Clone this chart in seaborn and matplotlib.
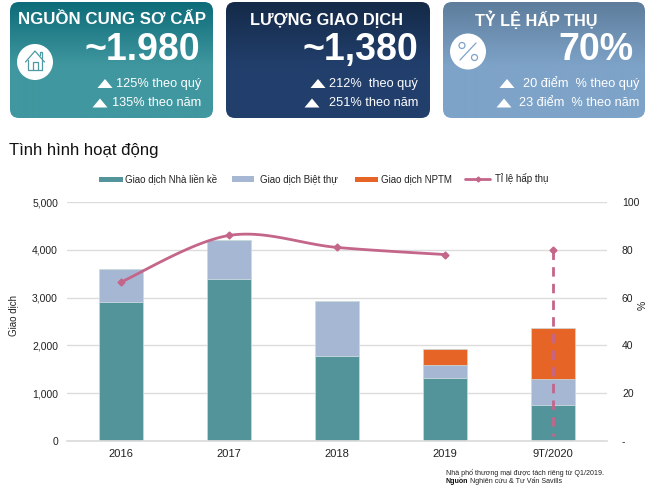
import numpy as np
import pandas as pd
import matplotlib
matplotlib.use("Agg")
import matplotlib.pyplot as plt
import seaborn as sns
from matplotlib.patches import FancyBboxPatch, Circle, Polygon
from matplotlib.lines import Line2D
from matplotlib.ticker import FuncFormatter

categories = ["2016", "2017", "2018", "2019", "9T/2020"]
townhouse = [2900, 3390, 1770, 1310, 750]
villa = [700, 820, 1150, 270, 550]
commercial = [0, 0, 0, 340, 1070]
absorption = [66.5, 86, 81, 78]
absorption_last = 80

card_titles = ["NGUỒN CUNG SƠ CẤP", "LƯỢNG GIAO DỊCH", "TỶ LỆ HẤP THỤ"]
card_values = ["~1.980", "~1,380", "70%"]
card_line1 = ["125% theo quý", "212%  theo quý", "20 điểm  % theo quý"]
card_line2 = ["135% theo năm", "251% theo năm", "23 điểm  % theo năm"]

sns.set_theme(style="white")
plt.rcParams["font.family"] = ["Liberation Sans", "DejaVu Sans"]

TEAL, VILLA, ORANGE, PINK = "#53949b", "#a6b7d4", "#e66426", "#c4658a"
W, H = 650, 488
fig = plt.figure(figsize=(W / 100, H / 100), dpi=100)

# chart axes
ax = fig.add_axes([67 / W, 1 - 441 / H, 540 / W, 239 / H])
df = pd.DataFrame({"cat": categories, "t": townhouse, "v": villa, "c": commercial})
bw = 0.4
common = dict(data=df, x="cat", ax=ax, width=bw, saturation=1, edgecolor="#c9dadd", linewidth=0.5)
sns.barplot(y="t", color=TEAL, **common)
sns.barplot(y="v", bottom=df["t"], color=VILLA, **common)
sns.barplot(y="c", bottom=df["t"] + df["v"], color=ORANGE, **common)
ax.set_xlim(-0.5, 4.5)
ax.set_ylim(0, 5000)
ax.set_yticks(range(0, 5001, 1000))
ax.yaxis.set_major_formatter(FuncFormatter(lambda v, _: f"{int(v):,}"))
ax.set_xlabel("")
ax.set_ylabel("")
ax.grid(axis="y", color="#dcdcdc", lw=1)
ax.set_axisbelow(True)
ax.tick_params(axis="y", length=0, labelsize=7.5, colors="#222222", pad=6.5)
ax.tick_params(axis="x", length=0, labelsize=8, colors="#222222", pad=6)
for s in ax.spines.values():
    s.set_visible(False)
ax.spines["bottom"].set_visible(True)
ax.spines["bottom"].set_color("#dcdcdc")

# secondary axis
ax2 = ax.twinx()
ax2.set_ylim(0, 100)
ax2.set_yticks(range(0, 101, 20))
ax2.set_yticklabels(["-", "20", "40", "60", "80", "100"])
ax2.tick_params(axis="y", length=0, labelsize=7.5, colors="#222222", pad=10.8)
ax2.set_ylabel("")
ax2.grid(False)
for s in ax2.spines.values():
    s.set_visible(False)

# smoothed curve through the yearly values (Catmull-Rom, as a spreadsheet smooth line)
xs = np.arange(len(absorption), dtype=float)
ys = np.array(absorption, dtype=float)
px = np.r_[xs[0], xs, xs[-1]]
py = np.r_[ys[0], ys, ys[-1]]
tt = np.linspace(0, 1, 30)
cx, cy = [], []
for i in range(1, len(px) - 2):
    for P, out in ((px, cx), (py, cy)):
        p0, p1, p2, p3 = P[i - 1:i + 3]
        out.extend(0.5 * (2 * p1 + (p2 - p0) * tt + (2 * p0 - 5 * p1 + 4 * p2 - p3) * tt**2
                          + (3 * p1 - p0 - 3 * p2 + p3) * tt**3))
sns.lineplot(x=cx, y=cy, ax=ax2, color=PINK, lw=2, legend=False, errorbar=None, sort=False)
ax2.plot(xs, ys, ls="none", marker="D", ms=3.5, color=PINK)
ax2.plot([4, 4], [absorption_last, 2], color=PINK, lw=2, ls=(0, (3.4, 2.6)))
ax2.plot([4], [absorption_last], ls="none", marker="D", ms=3.5, color=PINK)

# overlay in pixel coordinates
ov = fig.add_axes([0, 0, 1, 1], zorder=5)
ov.set_xlim(0, W)
ov.set_ylim(H, 0)
ov.axis("off")
ov.patch.set_alpha(0)


def hex2rgb(c):
    return np.array(matplotlib.colors.to_rgb(c))


cards = [
    (10, 213, "#0d6c79", "#40979f", "#449aa4"),
    (226, 430, "#142a48", "#223f6c", "#234170"),
    (443, 645, "#5e7d9c", "#7ea3c8", "#7fa4ca"),
]
TOP, BOT = 2, 118
for (x0, x1, c0, c1, c2), title, val, l1, l2, i in zip(
        cards, card_titles, card_values, card_line1, card_line2, range(3)):
    v = np.linspace(0, 1, 116)[:, None]
    grad = np.where(v < 0.55, v / 0.55, 1.0)
    rgb = np.empty((116, 1, 3))
    a, b = hex2rgb(c0), hex2rgb(c1)
    rgb[:, 0, :] = a * (1 - grad) + b * grad
    im = ov.imshow(rgb, extent=(x0, x1, BOT, TOP), aspect="auto", zorder=1, interpolation="bilinear")
    clip = FancyBboxPatch((x0 + 9, TOP + 9), x1 - x0 - 18, BOT - TOP - 18,
                          boxstyle="round,pad=9,rounding_size=9", transform=ov.transData,
                          fc="none", ec="none")
    ov.add_patch(clip)
    im.set_clip_path(clip)
    xc = {0: 111.5, 1: 326, 2: 536.5}[i]
    ov.text(xc, 20, title, ha="center", va="center", color="white",
            fontsize={0: 12.2, 1: 11.8, 2: 11.7}[i], fontweight="bold", zorder=3)
    xr = {0: 200, 1: 418, 2: 633}[i]
    ov.text(xr, 50.5, val, ha="right", va="center", color="white", fontsize=27,
            fontweight="bold", zorder=3)
    for yy, s, tri in ((83.5, l1, {0: 105, 1: 318, 2: 507}[i]),
                       (103, l2, {0: 100, 1: 312, 2: 504}[i])):
        xe = {0: 201, 1: 418, 2: 639}[i]
        ov.text(xe, yy, s, ha="right", va="center", color="white", fontsize=9.2, zorder=3)
        ov.add_patch(Polygon([(tri - 7.5, yy + 4.5), (tri + 7.5, yy + 4.5), (tri, yy - 4.5)],
                             closed=True, fc="white", ec="none", zorder=3))

# icon discs
ov.add_patch(Circle((35, 62), 18, fc="white", ec="none", zorder=3))
ov.add_patch(Circle((468, 51.5), 18, fc="white", ec="none", zorder=3))
ic = "#4f9aa3"
ov.plot([25.5, 35, 44.5], [62, 51, 62], color=ic, lw=0.9, zorder=4)
ov.plot([28, 28, 42, 42], [60, 70, 70, 60], color=ic, lw=0.9, zorder=4)
ov.plot([33, 33, 37.5, 37.5], [70, 62, 62, 70], color=ic, lw=0.9, zorder=4)
ov.plot([39.5, 39.5, 42, 42], [55, 52, 52, 58], color=ic, lw=0.9, zorder=4)
pc = "#7ea3c8"
ov.plot([460, 476], [60, 43], color=pc, lw=0.9, zorder=4)
ov.add_patch(Circle((462, 45.5), 3, fc="none", ec=pc, lw=0.9, zorder=4))
ov.add_patch(Circle((474.5, 57.5), 3, fc="none", ec=pc, lw=0.9, zorder=4))

# heading
ov.text(9, 151, "Tình hình hoạt động", ha="left", va="center", fontsize=12, color="#111111")

# axis titles
ov.text(13, 316, "Giao dịch", rotation=90, ha="center", va="center", fontsize=7, color="#222222")
ov.text(643, 305, "%", rotation=90, ha="center", va="center", fontsize=7.5, color="#222222")

# legend
ly = 179
ov.add_patch(plt.Rectangle((99, ly - 2.5), 24, 5, fc=TEAL, ec="none"))
ov.text(125, ly, "Giao dịch Nhà liền kề", va="center", fontsize=7, color="#222222")
ov.add_patch(plt.Rectangle((232, ly - 3), 22, 6, fc=VILLA, ec="none"))
ov.text(260, ly, "Giao dịch Biệt thự", va="center", fontsize=7, color="#222222")
ov.add_patch(plt.Rectangle((355, ly - 2.5), 23, 5, fc=ORANGE, ec="none"))
ov.text(381, ly, "Giao dịch NPTM", va="center", fontsize=7, color="#222222")
ov.add_line(Line2D([465, 490], [ly, ly], color=PINK, lw=2))
ov.add_line(Line2D([477.5], [ly], color=PINK, marker="D", ms=2.5))
ov.text(495, ly, "Tỉ lệ hấp thụ", va="center", fontsize=7, color="#222222")

# source note
ov.text(445.5, 472.5, "Nhà phố thương mại được tách riêng từ Q1/2019.", va="center", fontsize=5.15, color="#222222")
ov.text(445.5, 481, "Nguồn", va="center", fontsize=5.15, fontweight="bold", color="#111111")
ov.text(470.5, 481, "Nghiên cứu & Tư Vấn Savills", va="center", fontsize=5.15, color="#222222")

fig.savefig("out.png", dpi=100, facecolor="white")
